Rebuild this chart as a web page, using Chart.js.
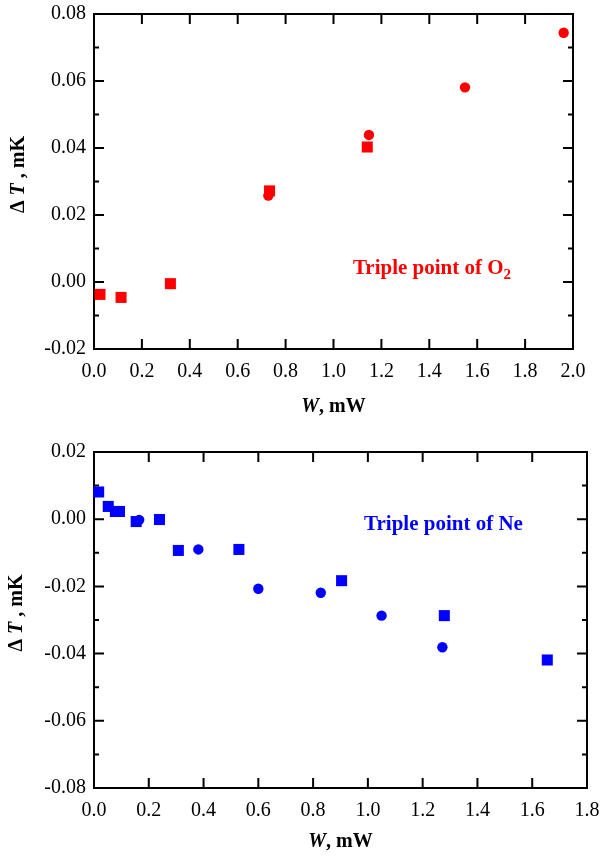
<!DOCTYPE html>
<html><head><meta charset="utf-8">
<script src="https://cdn.jsdelivr.net/npm/chart.js@4.4.1/dist/chart.umd.min.js"></script>
<style>
html,body{margin:0;padding:0;background:#fff;}
#wrap{position:relative;width:600px;height:857px;overflow:hidden;}
canvas{position:absolute;left:0;}
</style></head><body>
<div id="wrap">
<canvas id="c1" width="600" height="428" style="top:0;width:600px;height:428px"></canvas>
<canvas id="c2" width="600" height="429" style="top:428px;width:600px;height:429px"></canvas>
</div>
<script>
// ---- Data ----
const o2SquareW  = [0.025, 0.113, 0.319, 0.733, 1.141];
const o2SquareDT = [-0.0037, -0.0046, -0.0005, 0.0272, 0.0403];
const o2CircleW  = [0.728, 1.148, 1.549, 1.961];
const o2CircleDT = [0.0258, 0.0439, 0.0581, 0.0744];

const neSquareW  = [0.017, 0.052, 0.078, 0.093, 0.154, 0.239, 0.308, 0.529, 0.904, 1.279, 1.655];
const neSquareDT = [0.0081, 0.0038, 0.0023, 0.0023, -0.0007, -0.0001, -0.0093, -0.0090, -0.0183, -0.0287, -0.0419];
const neCircleW  = [0.165, 0.381, 0.600, 0.828, 1.050, 1.272];
const neCircleDT = [-0.0002, -0.0090, -0.0207, -0.0219, -0.0287, -0.0381];

const o2XTicks = [0, 0.2, 0.4, 0.6, 0.8, 1.0, 1.2, 1.4, 1.6, 1.8, 2.0];
const o2YTicks = [-0.02, 0.00, 0.02, 0.04, 0.06, 0.08];
const neXTicks = [0, 0.2, 0.4, 0.6, 0.8, 1.0, 1.2, 1.4, 1.6, 1.8];
const neYTicks = [-0.08, -0.06, -0.04, -0.02, 0.00, 0.02];

const o2Label = 'Triple point of O';
const o2LabelSub = '2';
const neLabel = 'Triple point of Ne';

const SERIF = '"Liberation Serif", "Times New Roman", Times, serif';

function drawRuns(ctx, runs, x, y, align) {
  let total = 0;
  runs.forEach(r => { ctx.font = r.font; r.w = ctx.measureText(r.t).width; total += r.w; });
  let cx = align === 'center' ? x - total / 2 : x;
  runs.forEach(r => {
    ctx.font = r.font;
    ctx.fillText(r.t, cx, y + (r.dy || 0));
    cx += r.w;
  });
}

const decor = {
  id: 'decor',
  beforeDatasetsDraw(chart) {
    const {ctx, chartArea: a, scales: {x, y}} = chart;
    ctx.save();
    ctx.strokeStyle = '#000';
    ctx.lineWidth = 2;
    ctx.lineCap = 'butt';
    ctx.beginPath();
    ctx.rect(a.left, a.top, a.right - a.left, a.bottom - a.top);
    y.ticks.forEach((t, i) => {
      const p = y.getPixelForValue(t.value);
      ctx.moveTo(a.left, p); ctx.lineTo(a.left + 10, p);
      ctx.moveTo(a.right, p); ctx.lineTo(a.right - 10, p);
      if (i < y.ticks.length - 1) {
        const m = y.getPixelForValue((t.value + y.ticks[i + 1].value) / 2);
        ctx.moveTo(a.left, m); ctx.lineTo(a.left + 5, m);
        ctx.moveTo(a.right, m); ctx.lineTo(a.right - 5, m);
      }
    });
    x.ticks.forEach(t => {
      const p = x.getPixelForValue(t.value);
      ctx.moveTo(p, a.bottom); ctx.lineTo(p, a.bottom - 10);
      ctx.moveTo(p, a.top); ctx.lineTo(p, a.top + 10);
    });
    ctx.stroke();
    ctx.restore();
  },
  afterDraw(chart, args, o) {
    const {ctx, chartArea: a, scales: {x, y}} = chart;
    ctx.save();
    ctx.fillStyle = '#000';
    ctx.textBaseline = 'alphabetic';
    ctx.textAlign = 'left';
    // x title
    drawRuns(ctx, [
      {t: 'W', font: 'italic bold 20px ' + SERIF},
      {t: ', mW', font: 'bold 20px ' + SERIF}
    ], (a.left + a.right) / 2, a.bottom + o.xTitleOffset, 'center');
    // y title (rotated)
    ctx.save();
    ctx.translate(o.yTitleX, (a.top + a.bottom) / 2 - 7);
    ctx.rotate(-Math.PI / 2);
    drawRuns(ctx, [
      {t: '\u0394 ', font: 'bold 20px ' + SERIF},
      {t: 'T', font: 'italic bold 20px ' + SERIF},
      {t: ' , mK', font: 'bold 20px ' + SERIF}
    ], 0, 0, 'center');
    ctx.restore();
    // annotation
    ctx.fillStyle = o.color;
    const runs = [{t: o.text, font: 'bold 21px ' + SERIF}];
    if (o.sub) runs.push({t: o.sub, font: 'bold 15px ' + SERIF, dy: 5});
    drawRuns(ctx, runs, x.getPixelForValue(o.xVal), y.getPixelForValue(o.yVal), 'left');
    ctx.restore();
  }
};

function makeChart(canvas, cfg) {
  const H = canvas.height;
  const tickFont = {family: SERIF, size: 20};
  return new Chart(canvas, {
    type: 'scatter',
    data: {datasets: cfg.datasets},
    options: {
      responsive: false,
      animation: false,
      events: [],
      layout: {autoPadding: false, padding: {left: 0, top: cfg.plotTop, right: 600 - cfg.plotRight, bottom: 0}},
      plugins: {legend: {display: false}, tooltip: {enabled: false}, decor: cfg.decor},
      scales: {
        x: {
          type: 'linear', min: cfg.xTicks[0], max: cfg.xTicks[cfg.xTicks.length - 1],
          afterBuildTicks: s => { s.ticks = cfg.xTicks.map(v => ({value: v})); },
          ticks: {font: tickFont, color: '#000', padding: 11, maxRotation: 0, autoSkip: false,
                  callback: v => Number(v).toFixed(1)},
          grid: {display: false, drawTicks: false},
          border: {display: false},
          afterFit: s => { s.height = H - cfg.plotBottom; s.paddingLeft = 0; s.paddingRight = 0; }
        },
        y: {
          type: 'linear', min: cfg.yTicks[0], max: cfg.yTicks[cfg.yTicks.length - 1],
          afterBuildTicks: s => { s.ticks = cfg.yTicks.map(v => ({value: v})); },
          ticks: {font: tickFont, color: '#000', padding: 8, autoSkip: false,
                  callback: v => Number(v).toFixed(2)},
          grid: {display: false, drawTicks: false},
          border: {display: false},
          afterFit: s => { s.width = cfg.plotLeft; s.paddingTop = 0; s.paddingBottom = 0; }
        }
      }
    },
    plugins: [decor]
  });
}

function pts(xs, ys) { return xs.map((v, i) => ({x: v, y: ys[i]})); }

const RED = '#ff0000', BLUE = '#0000ff';

makeChart(document.getElementById('c1'), {
  plotLeft: 94, plotRight: 573, plotTop: 14, plotBottom: 349,
  xTicks: o2XTicks, yTicks: o2YTicks,
  datasets: [
    {data: pts(o2SquareW, o2SquareDT), pointStyle: 'rect', pointRadius: 7.8, backgroundColor: RED, borderWidth: 0, order: 0, clip: false},
    {data: pts(o2CircleW, o2CircleDT), pointStyle: 'circle', pointRadius: 5.2, backgroundColor: RED, borderWidth: 0, order: 1, clip: false}
  ],
  decor: {color: RED, text: o2Label, sub: o2LabelSub, xVal: 1.081, yVal: 0.0024, xTitleOffset: 63, yTitleX: 24}
});

makeChart(document.getElementById('c2'), {
  plotLeft: 94, plotRight: 587, plotTop: 24, plotBottom: 360,
  xTicks: neXTicks, yTicks: neYTicks,
  datasets: [
    {data: pts(neSquareW, neSquareDT), pointStyle: 'rect', pointRadius: 7.8, backgroundColor: BLUE, borderWidth: 0, order: 1, clip: false},
    {data: pts(neCircleW, neCircleDT), pointStyle: 'circle', pointRadius: 5.2, backgroundColor: BLUE, borderWidth: 0, order: 0, clip: false}
  ],
  decor: {color: BLUE, text: neLabel, xVal: 0.986, yVal: -0.0033, xTitleOffset: 59, yTitleX: 22}
});
</script>
</body></html>
